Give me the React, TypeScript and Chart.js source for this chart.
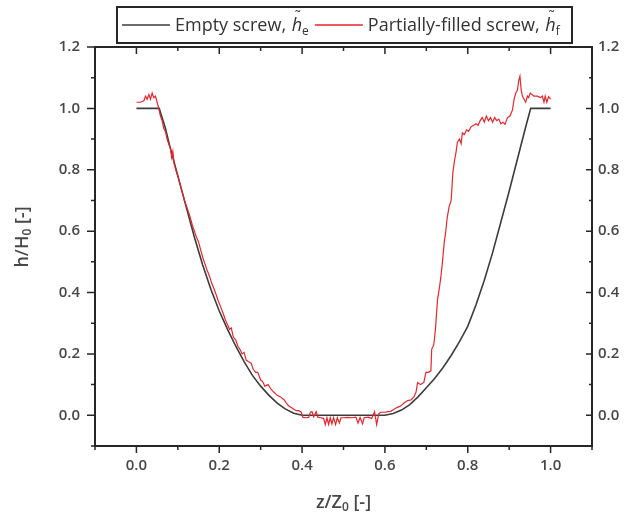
import { useEffect, useRef } from 'react';
import { Chart, registerables } from 'chart.js';

Chart.register(...registerables);

// ---------- data ----------
const emptyZ = [0.0, 0.055, 0.07, 0.08, 0.1, 0.12, 0.14, 0.16, 0.18, 0.2, 0.22, 0.24, 0.26, 0.28, 0.3, 0.32, 0.34, 0.36, 0.38, 0.4,
  0.6, 0.62, 0.64, 0.66, 0.68, 0.7, 0.72, 0.74, 0.76, 0.78, 0.8, 0.82, 0.84, 0.86, 0.88, 0.9, 0.92, 0.94, 0.952, 1.0];
const emptyH = [1.0, 1.0, 0.935, 0.88, 0.78, 0.68, 0.58, 0.49, 0.41, 0.34, 0.28, 0.225, 0.175, 0.13, 0.095, 0.065, 0.04, 0.02, 0.007, 0.0,
  0.0, 0.006, 0.017, 0.035, 0.06, 0.09, 0.12, 0.155, 0.195, 0.24, 0.29, 0.36, 0.44, 0.53, 0.63, 0.73, 0.835, 0.94, 1.0, 1.0];

const filledZ = [
  0.0, 0.01, 0.018, 0.022, 0.026, 0.03, 0.034, 0.038, 0.042, 0.046, 0.05, 0.054, 0.058, 0.062, 0.066, 0.07, 0.074, 0.078, 0.082, 0.085,
  0.088, 0.091, 0.095, 0.1, 0.104, 0.108, 0.112, 0.116, 0.12, 0.125, 0.13, 0.135, 0.14, 0.145, 0.15, 0.155, 0.16, 0.165, 0.17, 0.176,
  0.182, 0.188, 0.192, 0.197, 0.203, 0.21, 0.215, 0.22, 0.225, 0.229, 0.234, 0.24, 0.245, 0.25, 0.255, 0.26, 0.265, 0.27, 0.277, 0.282,
  0.288, 0.293, 0.3, 0.305, 0.31, 0.318, 0.325, 0.332, 0.34, 0.348, 0.357, 0.362, 0.368, 0.373, 0.38, 0.386, 0.392, 0.398, 0.402, 0.41,
  0.416, 0.42, 0.424, 0.428, 0.434, 0.438, 0.445, 0.452, 0.456, 0.46, 0.464, 0.468, 0.472, 0.476, 0.481, 0.485, 0.49, 0.494, 0.5, 0.51,
  0.52, 0.53, 0.535, 0.54, 0.546, 0.55, 0.56, 0.568, 0.575, 0.58, 0.585, 0.59, 0.6, 0.607, 0.614, 0.622, 0.63, 0.638, 0.646, 0.655,
  0.663, 0.67, 0.675, 0.679, 0.686, 0.694, 0.699, 0.705, 0.711, 0.713, 0.718, 0.722, 0.727, 0.731, 0.735, 0.739, 0.743, 0.747, 0.75, 0.755,
  0.76, 0.764, 0.768, 0.772, 0.775, 0.78, 0.784, 0.787, 0.792, 0.797, 0.802, 0.808, 0.815, 0.82, 0.825, 0.83, 0.835, 0.84, 0.845, 0.85,
  0.855, 0.86, 0.865, 0.87, 0.875, 0.88, 0.885, 0.89, 0.896, 0.902, 0.908, 0.912, 0.916, 0.92, 0.923, 0.926, 0.929, 0.932, 0.936, 0.94,
  0.944, 0.947, 0.951, 0.955, 0.96, 0.968, 0.975, 0.98, 0.984, 0.987, 0.991, 0.995, 1.0];
const filledH = [
  1.02, 1.02, 1.025, 1.04, 1.03, 1.045, 1.03, 1.05, 1.035, 1.04, 1.02, 1.0, 0.975, 0.96, 0.935, 0.925, 0.9, 0.885, 0.87, 0.84,
  0.86, 0.82, 0.8, 0.78, 0.76, 0.74, 0.72, 0.7, 0.685, 0.665, 0.645, 0.62, 0.6, 0.58, 0.565, 0.54, 0.515, 0.495, 0.475, 0.455,
  0.43, 0.41, 0.395, 0.375, 0.355, 0.33, 0.31, 0.295, 0.28, 0.285, 0.255, 0.245, 0.225, 0.215, 0.2, 0.205, 0.18, 0.175, 0.17, 0.15,
  0.14, 0.14, 0.115, 0.11, 0.095, 0.1, 0.085, 0.075, 0.065, 0.06, 0.05, 0.04, 0.03, 0.026, 0.02, 0.015, 0.015, 0.01, -0.007, -0.008,
  -0.007, 0.01, 0.012, -0.005, 0.012, -0.006, -0.008, -0.01, -0.03, -0.008, -0.03, -0.008, -0.028, -0.008, -0.03, -0.008, -0.025, -0.008, -0.008, -0.007,
  -0.008, -0.006, -0.025, -0.007, -0.028, -0.008, -0.006, -0.01, 0.012, -0.03, 0.005, 0.01, 0.01, 0.012, 0.013, 0.02, 0.026, 0.03, 0.04, 0.048,
  0.05, 0.06, 0.075, 0.107, 0.1, 0.107, 0.14, 0.14, 0.145, 0.215, 0.23, 0.28, 0.377, 0.41, 0.45, 0.5, 0.56, 0.6, 0.64, 0.68,
  0.7, 0.79, 0.83, 0.86, 0.89, 0.9, 0.885, 0.92, 0.915, 0.93, 0.925, 0.94, 0.946, 0.95, 0.945, 0.96, 0.97, 0.955, 0.975, 0.96,
  0.97, 0.955, 0.97, 0.96, 0.965, 0.95, 0.955, 0.948, 0.97, 0.975, 0.995, 1.03, 1.05, 1.06, 1.09, 1.105, 1.06, 1.04, 1.03, 1.02,
  1.04, 1.035, 1.05, 1.045, 1.04, 1.04, 1.035, 1.04, 1.02, 1.04, 1.02, 1.038, 1.03];

const xTickValues = [0.0, 0.2, 0.4, 0.6, 0.8, 1.0];
const yTickValues = [0.0, 0.2, 0.4, 0.6, 0.8, 1.0, 1.2];
const xMinorValues = [-0.1, 0.1, 0.3, 0.5, 0.7, 0.9, 1.1];
const yMinorValues = [-0.1, 0.1, 0.3, 0.5, 0.7, 0.9, 1.1];

const seriesNames = ['Empty screw, ', 'Partially-filled screw, '];
const seriesSubs = ['e', 'f'];
const seriesColors = ['#3c3c3c', '#e8262b'];
const xTitleParts = ['z/Z', '0', ' [-]'];
const yTitleParts = ['h/H', '0', ' [-]'];

// ---------- style ----------
const FONT = '"Open Sans", "Liberation Sans", sans-serif';
const TEXT = '#474747';
const AXIS = '#262626';

type Part = { text: string; size: number; weight: string; style?: string; dy: number };

function partsWidth(ctx: CanvasRenderingContext2D, parts: Part[]) {
  let w = 0;
  for (const p of parts) {
    ctx.font = `${p.style || 'normal'} ${p.weight} ${p.size}px ${FONT}`;
    w += ctx.measureText(p.text).width;
  }
  return w;
}

function drawParts(ctx: CanvasRenderingContext2D, parts: Part[], x: number, y: number) {
  for (const p of parts) {
    ctx.font = `${p.style || 'normal'} ${p.weight} ${p.size}px ${FONT}`;
    ctx.fillText(p.text, x, y + p.dy);
    x += ctx.measureText(p.text).width;
  }
  return x;
}

const decorPlugin = {
  id: 'decor',
  afterDraw(chart: any) {
    const ctx: CanvasRenderingContext2D = chart.ctx;
    const { left, right, top, bottom } = chart.chartArea;
    const xs = chart.scales.x;
    const ys = chart.scales.y;
    ctx.save();
    // tick marks
    ctx.strokeStyle = AXIS;
    ctx.lineWidth = 1.5;
    ctx.beginPath();
    const xt = (v: number, major: boolean) => {
      const px = xs.getPixelForValue(v);
      ctx.moveTo(px, bottom); ctx.lineTo(px, bottom + (major ? 7 : 4));
      ctx.moveTo(px, top); ctx.lineTo(px, top + (major ? 7 : 4));
    };
    const yt = (v: number, major: boolean) => {
      const py = ys.getPixelForValue(v);
      ctx.moveTo(left, py); ctx.lineTo(left - (major ? 8 : 4), py);
      ctx.moveTo(right, py); ctx.lineTo(right - (major ? 6 : 3), py);
    };
    xTickValues.forEach(v => xt(v, true));
    xMinorValues.forEach(v => xt(v, false));
    yTickValues.forEach(v => yt(v, true));
    yMinorValues.forEach(v => yt(v, false));
    ctx.stroke();

    // axis titles
    ctx.fillStyle = TEXT;
    ctx.textBaseline = 'middle';
    ctx.textAlign = 'left';
    const mk = (arr: string[]): Part[] => [
      { text: arr[0], size: 18, weight: '600', dy: 0 },
      { text: arr[1], size: 12, weight: '600', dy: 5 },
      { text: arr[2], size: 18, weight: '600', dy: 0 },
    ];
    const xp = mk(xTitleParts);
    const xw = partsWidth(ctx, xp);
    drawParts(ctx, xp, (left + right) / 2 - xw / 2, 503);
    const yp = mk(yTitleParts);
    const yw = partsWidth(ctx, yp);
    ctx.save();
    ctx.translate(23, 237);
    ctx.rotate(-Math.PI / 2);
    drawParts(ctx, yp, -yw / 2, 0);
    ctx.restore();

    // legend
    const ly = 25;
    let lx = 122;
    const lineLen = 48;
    ctx.fillStyle = '#333';
    for (let i = 0; i < seriesNames.length; i++) {
      ctx.strokeStyle = seriesColors[i];
      ctx.lineWidth = 1.5;
      ctx.beginPath();
      ctx.moveTo(lx, ly); ctx.lineTo(lx + lineLen, ly);
      ctx.stroke();
      lx += lineLen + 5;
      lx = drawParts(ctx, [{ text: seriesNames[i], size: 18, weight: 'normal', dy: 0 }], lx, ly + 1);
      // italic h with tilde and subscript
      ctx.font = `italic normal 18px ${FONT}`;
      const hx = lx + 1;
      ctx.fillText('h', hx, ly + 1);
      const hw = ctx.measureText('h').width;
      ctx.font = `normal normal 14px ${FONT}`;
      const tw = ctx.measureText('\u02DC').width;
      ctx.fillText('\u02DC', hx + hw / 2 - tw / 2 + 1, ly - 8);
      ctx.font = `normal normal 12px ${FONT}`;
      ctx.fillText(seriesSubs[i], hx + hw, ly + 7);
      lx = hx + hw + ctx.measureText(seriesSubs[i]).width + 6;
    }
    ctx.strokeStyle = AXIS;
    ctx.lineWidth = 2;
    ctx.strokeRect(117, 7, Math.max(lx + 2, 572) - 117, 36);
    ctx.restore();
  },
};

export default function App() {
  const ref = useRef<HTMLCanvasElement | null>(null);
  useEffect(() => {
    if (!ref.current) return;
    const tickFont = { family: FONT, size: 15, weight: '600' as any };
    const fmt = (v: any) => Number(v).toFixed(1);
    const common = (ticks: number[]) => ({
      afterBuildTicks: (s: any) => { s.ticks = ticks.map(v => ({ value: v })); },
      grid: { drawOnChartArea: false, drawTicks: false },
      border: { display: true, color: AXIS, width: 2 },
    });
    const chart = new Chart(ref.current, {
      type: 'scatter',
      data: {
        datasets: [
          {
            label: seriesNames[0],
            data: emptyZ.map((z, i) => ({ x: z, y: emptyH[i] })),
            showLine: true,
            borderColor: seriesColors[0],
            backgroundColor: seriesColors[0],
            borderWidth: 1.6,
            pointRadius: 0,
            order: 2,
          },
          {
            label: seriesNames[1],
            data: filledZ.map((z, i) => ({ x: z, y: filledH[i] })),
            showLine: true,
            borderColor: seriesColors[1],
            backgroundColor: seriesColors[1],
            borderWidth: 1.2,
            pointRadius: 0,
            order: 1,
          },
        ],
      },
      options: {
        animation: false,
        responsive: false,
        devicePixelRatio: 1,
        events: [],
        layout: { padding: 0 },
        plugins: { legend: { display: false }, tooltip: { enabled: false } },
        scales: {
          x: {
            type: 'linear', position: 'bottom', min: -0.1, max: 1.1,
            ...common(xTickValues),
            afterFit: (s: any) => { s.height = 72; },
            ticks: { padding: 11, font: tickFont, color: TEXT, callback: fmt, maxRotation: 0, autoSkip: false },
          },
          xTop: {
            type: 'linear', position: 'top', min: -0.1, max: 1.1,
            ...common(xTickValues),
            afterFit: (s: any) => { s.height = 47; },
            ticks: { display: false },
          },
          y: {
            type: 'linear', position: 'left', min: -0.1, max: 1.2,
            ...common(yTickValues),
            afterFit: (s: any) => { s.width = 95; },
            ticks: { padding: 15, font: tickFont, color: TEXT, callback: fmt, autoSkip: false },
          },
          yRight: {
            type: 'linear', position: 'right', min: -0.1, max: 1.2,
            ...common(yTickValues),
            afterFit: (s: any) => { s.width = 46; },
            ticks: { padding: 6, font: tickFont, color: TEXT, callback: fmt, autoSkip: false },
          },
        } as any,
      },
      plugins: [decorPlugin],
    });
    return () => chart.destroy();
  }, []);
  return (
    <div style={{ position: 'absolute', left: 0, top: 0, width: 638, height: 518, background: '#fff' }}>
      <canvas ref={ref} width={638} height={518} style={{ width: 638, height: 518, display: 'block' }} />
    </div>
  );
}
